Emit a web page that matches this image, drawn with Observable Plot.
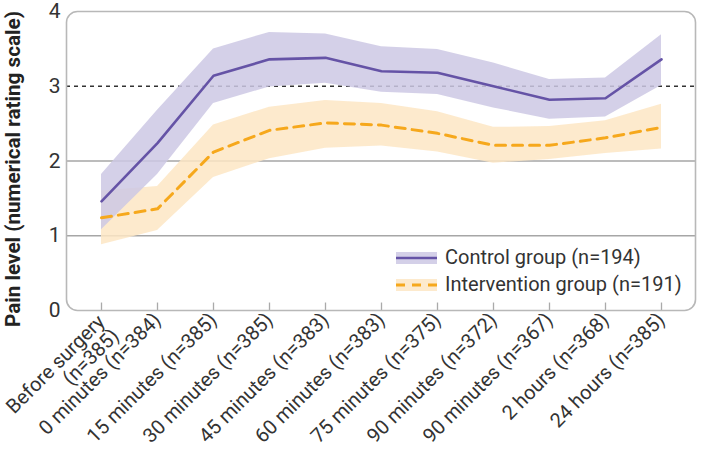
<!DOCTYPE html>
<html>
<head>
<meta charset="utf-8">
<script src="https://cdn.jsdelivr.net/npm/d3@7"></script>
<script src="https://cdn.jsdelivr.net/npm/@observablehq/plot@0.6"></script>
<style>
  html, body { margin: 0; padding: 0; background: #fff; }
  #wrap { position: relative; width: 704px; height: 454px; font-family: Roboto, "Open Sans", sans-serif; }
  #legend { position: absolute; left: 396px; top: 244px; font-size: 20px; color: #333; line-height: 27px; }
  #legend .row { display: flex; align-items: center; height: 27px; }
  #legend svg { margin-right: 8px; }
</style>
</head>
<body>
<div id="wrap"></div>
<script>
const categories = [
  "Before surgery\n(n=385)", "0 minutes (n=384)", "15 minutes (n=385)", "30 minutes (n=385)",
  "45 minutes (n=383)", "60 minutes (n=383)", "75 minutes (n=375)", "90 minutes (n=372)",
  "90 minutes (n=367)", "2 hours (n=368)", "24 hours (n=385)"
];
const controlMean  = [1.46, 2.24, 3.14, 3.36, 3.38, 3.20, 3.18, 3.00, 2.82, 2.84, 3.36];
const controlLow   = [1.08, 1.82, 2.77, 2.99, 3.04, 2.92, 2.89, 2.71, 2.56, 2.59, 3.01];
const controlHigh  = [1.82, 2.68, 3.50, 3.72, 3.70, 3.53, 3.49, 3.31, 3.09, 3.11, 3.69];
const interMean    = [1.24, 1.36, 2.12, 2.41, 2.51, 2.48, 2.37, 2.21, 2.21, 2.31, 2.45];
const interLow     = [0.88, 1.07, 1.78, 2.03, 2.17, 2.20, 2.12, 1.97, 2.02, 2.10, 2.16];
const interHigh    = [1.60, 1.66, 2.48, 2.72, 2.81, 2.77, 2.66, 2.45, 2.46, 2.54, 2.76];
const yTicks = [0, 1, 2, 3, 4];
const gridValues = [1, 2];
const thresholdValue = [3];
const yLabel = "Pain level (numerical rating scale)";
const seriesNames = ["Control group (n=194)", "Intervention group (n=191)"];

const purpleLine = "#6553a6", purpleBand = "#ccc8e4";
const orangeLine = "#f6a81c", orangeBand = "#fde6c4";

const rows = categories.map((c, i) => ({
  cat: c,
  cm: controlMean[i], cl: controlLow[i], ch: controlHigh[i],
  im: interMean[i], il: interLow[i], ih: interHigh[i]
}));

const xAxisStyle = { tickSize: 0, tickPadding: 6, tickRotate: -45, fontSize: 20, label: null, fill: "#333" };

const chart = Plot.plot({
  width: 704,
  height: 454,
  marginLeft: 66,
  marginRight: 9,
  marginTop: 11,
  marginBottom: 144,
  style: { fontFamily: "Roboto, 'Open Sans', sans-serif", color: "#333", background: "#fff" },
  x: { type: "point", domain: categories, padding: 0.56, label: null },
  y: { domain: [0, 4], label: null },
  marks: [
    Plot.ruleY(gridValues, { stroke: "#a6a6a6", strokeWidth: 1.3 }),
    Plot.ruleY(thresholdValue, { stroke: "#333", strokeWidth: 1.4, strokeDasharray: "4,4" }),
    Plot.areaY(rows, { x: "cat", y1: "il", y2: "ih", fill: orangeBand, fillOpacity: 0.85, curve: "linear" }),
    Plot.areaY(rows, { x: "cat", y1: "cl", y2: "ch", fill: purpleBand, fillOpacity: 0.85, curve: "linear" }),
    Plot.lineY(rows, { x: "cat", y: "im", stroke: orangeLine, strokeWidth: 3, strokeDasharray: "10,7" }),
    Plot.lineY(rows, { x: "cat", y: "cm", stroke: purpleLine, strokeWidth: 2.6 }),
    Plot.ruleX(categories, { x: d => d, y1: 0, y2: 0.1, stroke: "#aaa", strokeWidth: 1.3 }),
    Plot.frame({ stroke: "#b8b8b8", strokeWidth: 1.6, rx: 11 }),
    Plot.axisY({ ticks: yTicks, tickFormat: d3.format("d"), tickSize: 0, tickPadding: 6, fontSize: 21, label: null, fill: "#333" }),
    Plot.axisX(categories.slice(0, 1), { ...xAxisStyle, dx: 7, dy: 9 }),
    Plot.axisX(categories.slice(1), xAxisStyle),
    Plot.text([yLabel], { frameAnchor: "left", textAnchor: "middle", rotate: -90, dx: -53, dy: 8, fontSize: 20.7, fontWeight: "bold", fill: "#222" })
  ]
});

const wrap = document.getElementById("wrap");
wrap.appendChild(chart);

const legend = document.createElement("div");
legend.id = "legend";
const swatches = [
  { band: purpleBand, line: purpleLine, dash: null, w: 2.6 },
  { band: orangeBand, line: orangeLine, dash: "9,7", w: 3 }
];
seriesNames.forEach((name, i) => {
  const s = swatches[i];
  const row = document.createElement("div");
  row.className = "row";
  row.innerHTML = `<svg width="41" height="12"><rect x="0" y="0" width="41" height="12" fill="${s.band}" opacity="0.85"></rect><line x1="0" x2="41" y1="6" y2="6" stroke="${s.line}" stroke-width="${s.w}" ${s.dash ? `stroke-dasharray="${s.dash}"` : ""}></line></svg><span>${name}</span>`;
  legend.appendChild(row);
});
wrap.appendChild(legend);
</script>
</body>
</html>
